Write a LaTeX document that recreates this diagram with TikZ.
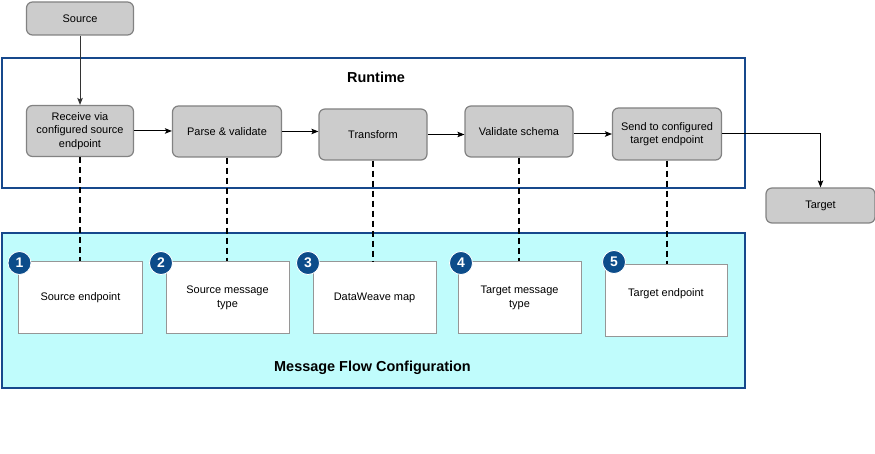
\documentclass[tikz,border=0pt]{standalone}
\usepackage{fontspec}
\setmainfont{Liberation Sans}
\usetikzlibrary{arrows.meta}
\definecolor{boxgray}{RGB}{204,204,204}
\definecolor{boxedge}{RGB}{130,130,130}
\definecolor{frameblue}{RGB}{22,72,140}
\definecolor{cfgfill}{RGB}{192,252,252}
\definecolor{circblue}{RGB}{12,76,138}
\definecolor{whiteedge}{RGB}{150,150,150}
\tikzset{
  x=1bp, y=-1bp,
  graybox/.style={draw=boxedge, fill=boxgray, line width=1.2bp, rounded corners=6bp,
     align=center, font=\fontsize{11}{13.5}\selectfont, inner sep=2bp},
  cfgbox/.style={draw=whiteedge, fill=white, line width=1bp, align=center,
     minimum width=123bp, minimum height=72bp, font=\fontsize{11}{13.5}\selectfont, inner sep=2bp},
  frame/.style={draw=frameblue, line width=2bp},
  numcirc/.style={circle, fill=circblue, draw=white, line width=0.8bp, minimum size=23bp, inner sep=0pt,
     text=white, font=\bfseries\fontsize{14}{14}\selectfont},
  flow/.style={draw=black, line width=1bp, -{Stealth[length=7bp,width=5.5bp,inset=1.5bp]}},
  link/.style={draw=black, line width=2bp, dash pattern=on 6bp off 4bp},
  title/.style={font=\bfseries\fontsize{14.5}{16}\selectfont}
}
\begin{document}
\begin{tikzpicture}
\useasboundingbox (0,0) rectangle (875,454);
% frames
\draw[frame] (2,58) rectangle (745,188);
\node[title] (rt) at (376,77) {Runtime};
\draw[frame, fill=cfgfill] (2,233) rectangle (745,388);
\node[title] (mfc) at (372.5,367.5) {Message Flow Configuration};
% gray boxes
\node[graybox, minimum width=107bp, minimum height=33bp] (source) at (80,18.5) {Source};
\node[graybox, minimum width=107bp, minimum height=51bp] (receive) at (80,131) {Receive via\\configured source\\endpoint};
\node[graybox, minimum width=109bp, minimum height=51bp] (parse) at (227,131.5) {Parse \& validate};
\node[graybox, minimum width=108bp, minimum height=51bp] (transform) at (373,134.5) {Transform};
\node[graybox, minimum width=108bp, minimum height=51bp] (validate) at (519,131.5) {Validate schema};
\node[graybox, minimum width=109bp, minimum height=52bp] (send) at (667,134) {Send to configured\\target endpoint};
\node[graybox, minimum width=109bp, minimum height=35bp] (target) at (820.5,205.5) {Target};
% config boxes
\node[cfgbox] (c1) at (80.5,298) {Source endpoint};
\node[cfgbox] (c2) at (227.5,298) {Source message\\type};
\node[cfgbox] (c3) at (374.5,298) {DataWeave map};
\node[cfgbox] (c4) at (519.5,298) {Target message\\type};
\node[cfgbox, minimum width=122bp, label={[font=\fontsize{11}{13.5}\selectfont, yshift=7bp]center:Target endpoint}] (c5) at (666,301) {};
% numbers
\node[numcirc] (n1) at (19.5,263) {1};
\node[numcirc] (n2) at (161,263) {2};
\node[numcirc] (n3) at (308,263) {3};
\node[numcirc] (n4) at (461,263) {4};
\node[numcirc] (n5) at (614,262) {5};
% flow arrows
\draw[flow, draw=black!80] (source.south) -- (receive.north);
\draw[flow] (receive.east) -- (receive.east -| parse.west);
\draw[flow] (parse.east) -- (parse.east -| transform.west);
\draw[flow] (transform.east) -- (transform.east -| validate.west);
\draw[flow] (validate.east |- send.west) -- (send.west);
\draw[flow] (send.east) -| (target.north);
% dashed links
\draw[link] (receive.south) -- (receive.south |- c1.north);
\draw[link] (parse.south) -- (parse.south |- c2.north);
\draw[link] (transform.south) -- (transform.south |- c3.north);
\draw[link] (validate.south) -- (validate.south |- c4.north);
\draw[link] (send.south) -- (send.south |- c5.north);
\end{tikzpicture}
\end{document}
